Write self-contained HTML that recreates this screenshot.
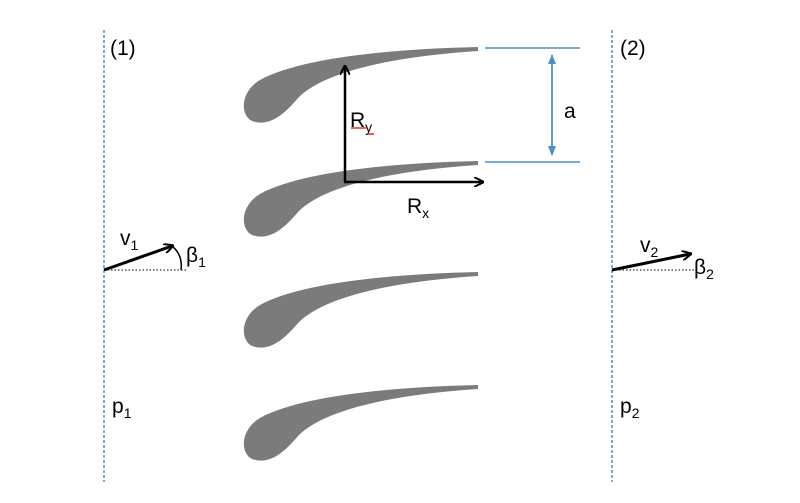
<!DOCTYPE html>
<html><head><style>body{margin:0;background:#fff}svg{display:block}text{font-family:"Liberation Sans",sans-serif;fill:#000}</style></head><body>
<svg width="800" height="503" viewBox="0 0 800 503">
<defs>
<marker id="ah" markerWidth="10" markerHeight="10" refX="8" refY="5" orient="auto" markerUnits="userSpaceOnUse"><path d="M0,0 L10,5 L0,10" fill="none" stroke="#000" stroke-width="2"/></marker>
<marker id="bh" markerWidth="10" markerHeight="10" refX="9" refY="5" orient="auto" markerUnits="userSpaceOnUse"><path d="M0,1 L10,5 L0,9 Z" fill="#4a90c8"/></marker>
<path id="blade" d="M478,47 C390,49 300,58 260,80 C240,92 240,115 252,121 C268,127 283,116 298,98 C325,70 400,56 478,51 Z" fill="#7b7b7b"/>
</defs>
<line x1="104" y1="30" x2="104" y2="482" stroke="#4a90c8" stroke-width="1.5" stroke-dasharray="3,2"/>
<line x1="612" y1="30" x2="612" y2="482" stroke="#4a90c8" stroke-width="1.5" stroke-dasharray="3,2"/>
<use href="#blade"/>
<use href="#blade" y="114"/>
<use href="#blade" y="225"/>
<use href="#blade" y="338"/>
<line x1="485" y1="48" x2="580" y2="48" stroke="#4a90c8" stroke-width="1.5"/>
<line x1="485" y1="162" x2="580" y2="162" stroke="#4a90c8" stroke-width="1.5"/>
<line x1="552" y1="55" x2="552" y2="155" stroke="#4a90c8" stroke-width="1.5" marker-end="url(#bh)"/>
<line x1="552" y1="155" x2="552" y2="55" stroke="#4a90c8" stroke-width="1.5" marker-end="url(#bh)"/>
<text x="564" y="118" font-size="21">a</text>
<line x1="345" y1="182" x2="345" y2="67" stroke="#000" stroke-width="2.5" marker-end="url(#ah)"/>
<line x1="344" y1="182" x2="482" y2="182" stroke="#000" stroke-width="2.5" marker-end="url(#ah)"/>
<text x="350" y="127" font-size="21">R<tspan font-size="14" dy="5">y</tspan></text>
<line x1="351" y1="128" x2="366" y2="128" stroke="#e03030" stroke-width="1.5"/>
<line x1="368" y1="134" x2="374" y2="134" stroke="#e03030" stroke-width="1.5"/>
<text x="407" y="213" font-size="21">R<tspan font-size="14" dy="5">x</tspan></text>
<text x="110" y="55" font-size="21">(1)</text>
<text x="620" y="55" font-size="21">(2)</text>
<line x1="104" y1="270" x2="172" y2="246" stroke="#000" stroke-width="3" marker-end="url(#ah)"/>
<line x1="104" y1="270" x2="186" y2="270" stroke="#000" stroke-width="1" stroke-dasharray="1.5,2"/>
<path d="M172,246 Q183,255 181,270" fill="none" stroke="#000" stroke-width="1.5"/>
<text x="120" y="245" font-size="21">v<tspan font-size="14" dy="5">1</tspan></text>
<text x="186" y="262" font-size="21">β<tspan font-size="14" dy="5">1</tspan></text>
<line x1="612" y1="270" x2="690" y2="254" stroke="#000" stroke-width="3" marker-end="url(#ah)"/>
<line x1="612" y1="270" x2="696" y2="270" stroke="#000" stroke-width="1" stroke-dasharray="1.5,2"/>
<text x="640" y="252" font-size="21">v<tspan font-size="14" dy="5">2</tspan></text>
<text x="694" y="274" font-size="21">β<tspan font-size="14" dy="5">2</tspan></text>
<text x="112" y="413" font-size="21">p<tspan font-size="14" dy="5">1</tspan></text>
<text x="620" y="413" font-size="21">p<tspan font-size="14" dy="5">2</tspan></text>
</svg>
</body></html>
